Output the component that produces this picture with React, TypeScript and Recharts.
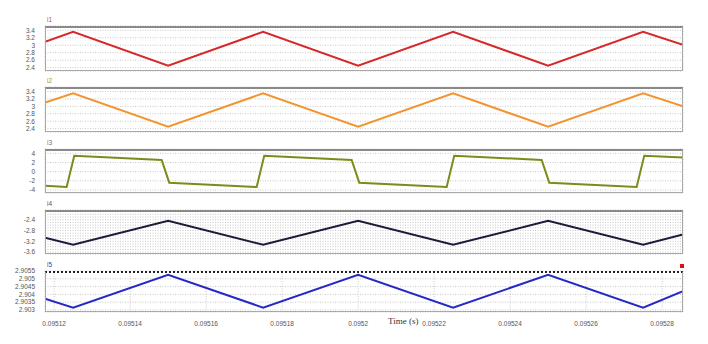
import { LineChart, Line, XAxis, YAxis, CartesianGrid } from "recharts";

// time axis
const X_DOMAIN = [0.0951176, 0.0952855];
const X_TICKS = [0.09512, 0.09514, 0.09516, 0.09518, 0.0952, 0.09522, 0.09524, 0.09526, 0.09528];

// breakpoints of the triangle waves (i1, i2, i4, i5)
const T_TRI = [0.0951176, 0.095125, 0.09515, 0.095175, 0.0952, 0.095225, 0.09525, 0.095275, 0.0952855];
const I1 = [3.09, 3.36, 2.45, 3.36, 2.45, 3.36, 2.45, 3.36, 3.01];
const I2 = [3.1, 3.35, 2.45, 3.35, 2.45, 3.35, 2.45, 3.35, 3.0];
const I4 = [-3.07, -3.33, -2.44, -3.33, -2.44, -3.33, -2.44, -3.33, -2.95];
const I5 = [2.90372, 2.90315, 2.90526, 2.90315, 2.90526, 2.90315, 2.90526, 2.90315, 2.9042];

// i3 switches between the two levels
const T_I3 = [
  0.0951176, 0.0951233, 0.0951253, 0.0951483, 0.0951503, 0.0951733, 0.0951753, 0.0951983,
  0.0952003, 0.0952233, 0.0952253, 0.0952483, 0.0952503, 0.0952733, 0.0952753, 0.0952855,
];
const I3 = [-3.06, -3.35, 3.48, 2.54, -2.4, -3.35, 3.48, 2.54, -2.4, -3.35, 3.48, 2.54, -2.4, -3.35, 3.48, 3.06];

const TICKS_12 = [2.4, 2.6, 2.8, 3, 3.2, 3.4];
const TICKS_3 = [-4, -2, 0, 2, 4];
const TICKS_4 = [-3.6, -3.5, -3.4, -3.3, -3.2, -3.1, -3.0, -2.9, -2.8, -2.7, -2.6, -2.5, -2.4, -2.3, -2.2, -2.1];
const LABELS_4 = ["-2.4", "-2.8", "-3.2", "-3.6"];
const TICKS_5 = [2.903, 2.9035, 2.904, 2.9045, 2.905, 2.9055];

const toRows = (t: number[], v: number[]) => t.map((x, i) => ({ t: x, v: v[i] }));

const PANELS = [
  { name: "i1", top: 26, bottom: 71, color: "#d62828", labelColor: "#b05050", data: toRows(T_TRI, I1), domain: [2.31, 3.515], ticks: TICKS_12, fmt: (v: number) => String(v) },
  { name: "i2", top: 87, bottom: 132, color: "#f29431", labelColor: "#a89040", data: toRows(T_TRI, I2), domain: [2.31, 3.52], ticks: TICKS_12, fmt: (v: number) => String(v) },
  { name: "i3", top: 149, bottom: 193, color: "#7b8c1c", labelColor: "#777", data: toRows(T_I3, I3), domain: [-4.65, 4.94], ticks: TICKS_3, fmt: (v: number) => String(v) },
  {
    name: "i4", top: 210, bottom: 254, color: "#1b1b3a", labelColor: "#555", data: toRows(T_TRI, I4), domain: [-3.67, -2.04], ticks: TICKS_4,
    fmt: (v: number) => (LABELS_4.includes(v.toFixed(1)) ? v.toFixed(1) : ""),
  },
  { name: "i5", top: 271, bottom: 312, color: "#2727c8", labelColor: "#3a3ab0", data: toRows(T_TRI, I5), domain: [2.90287, 2.9055], ticks: TICKS_5, fmt: (v: number) => String(Number(v.toFixed(4))) },
];

const LEFT = 45;
const RIGHT = 25;
const PAD = 6;
const W = 708;
const tickStyle = { fill: "#555", fontSize: 6.5, fontFamily: "Liberation Sans, Arial, sans-serif" };

export default function App() {
  return (
    <div style={{ position: "absolute", left: 0, top: 0, width: W, height: 344, background: "#fff", overflow: "hidden" }}>
      {PANELS.map((p, idx) => {
        const last = idx === PANELS.length - 1;
        const h = p.bottom - p.top;
        return (
          <div key={p.name}>
            <div
              style={{
                position: "absolute",
                left: LEFT + 2,
                top: p.top - 10,
                fontSize: 6.5,
                fontFamily: "Liberation Sans, Arial, sans-serif",
                color: p.labelColor,
              }}
            >
              {p.name}
            </div>
            <div style={{ position: "absolute", left: 0, top: p.top - PAD }}>
              <LineChart
                width={W}
                height={h + PAD + (last ? 16 : 4)}
                data={p.data}
                margin={{ top: PAD, right: RIGHT, bottom: last ? 0 : 4, left: 0 }}
              >
                <CartesianGrid stroke="#c8c8c8" strokeDasharray="1 1.5" />
                <XAxis
                  dataKey="t"
                  type="number"
                  domain={X_DOMAIN}
                  ticks={X_TICKS}
                  allowDataOverflow
                  height={last ? 16 : 0}
                  tick={last ? tickStyle : false}
                  tickFormatter={(v: number) => String(Number(v.toFixed(5)))}
                  axisLine={false}
                  tickLine={false}
                  tickMargin={3}
                  interval={0}
                />
                <YAxis
                  type="number"
                  width={LEFT}
                  domain={p.domain}
                  ticks={p.ticks}
                  allowDataOverflow
                  tick={tickStyle}
                  tickFormatter={p.fmt}
                  axisLine={false}
                  tickLine={false}
                  tickMargin={4}
                  interval={0}
                />
                <Line
                  type="linear"
                  dataKey="v"
                  stroke={p.color}
                  strokeWidth={2}
                  dot={false}
                  isAnimationActive={false}
                />
              </LineChart>
            </div>
            <div
              style={{
                position: "absolute",
                left: LEFT,
                top: p.top,
                width: W - LEFT - RIGHT,
                height: h,
                boxSizing: "border-box",
                border: "1px solid #a8a8a8",
                borderTop: last ? "2px dotted #222" : "2px solid #8a8a8a",
                pointerEvents: "none",
              }}
            />
          </div>
        );
      })}
      <div style={{ position: "absolute", left: 680, top: 264, width: 4, height: 4, background: "#e01010" }} />
      <div
        style={{
          position: "absolute",
          left: 388,
          top: 316,
          fontSize: 9,
          fontFamily: "Liberation Serif, Times New Roman, serif",
          color: "#333",
        }}
      >
        Time (s)
      </div>
    </div>
  );
}
